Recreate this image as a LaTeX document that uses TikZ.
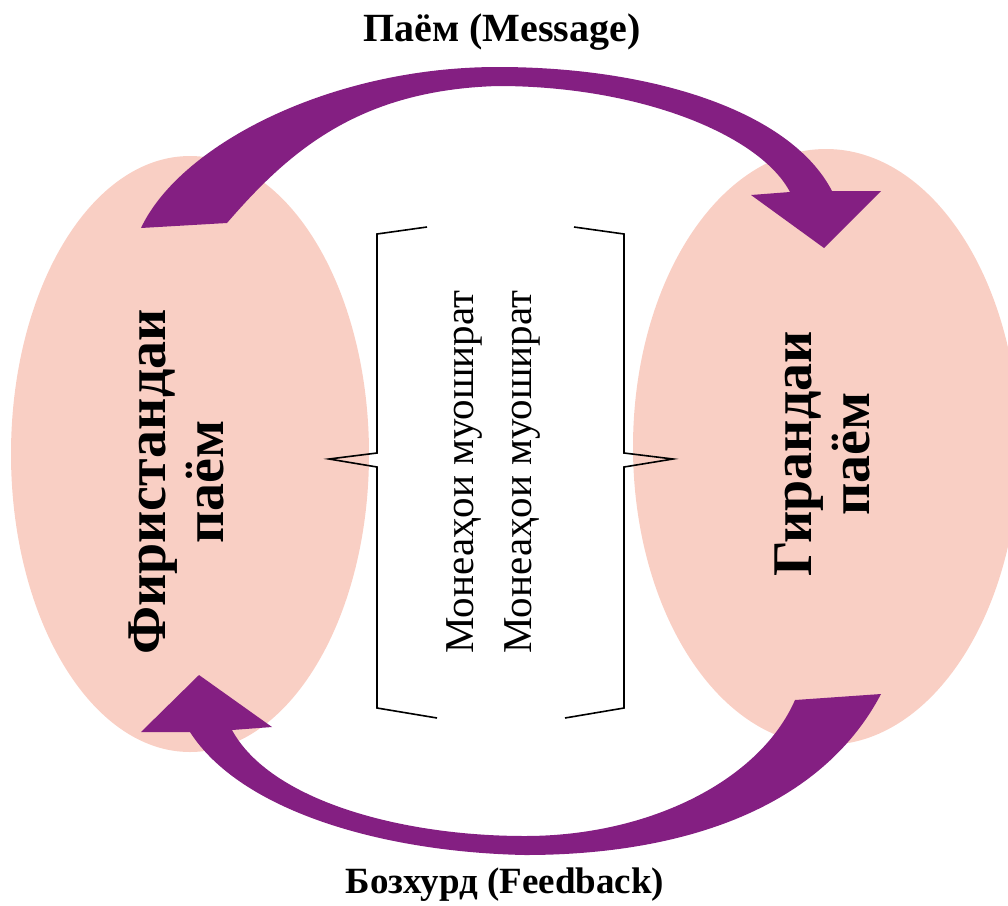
\documentclass[tikz,border=0pt]{standalone}
\usepackage{fontspec}
\setmainfont{Liberation Serif}
\usetikzlibrary{shapes.geometric}
\definecolor{partypink}{RGB}{249,207,196}
\definecolor{loopviolet}{RGB}{132,31,130}
\tikzset{
  party/.style={ellipse,fill=partypink,inner sep=0pt},
  partytext/.style={rotate=90,align=center,inner sep=0pt,font=\bfseries\fontsize{56}{58}\selectfont},
  flowtext/.style={inner sep=0pt,font=\bfseries\fontsize{40}{48}\selectfont},
  bigloop/.style={fill=loopviolet},
  brace/.style={draw,line width=1.6,line join=miter}
}
\begin{document}
\begin{tikzpicture}[x=1pt,y=-1pt]
  \useasboundingbox (0,0) rectangle (1008,905);
  \clip (0,0) rectangle (1008,905);
  \node[party,minimum width=358,minimum height=596] (sender) at (190,454) {};
  \node[party,minimum width=386,minimum height=596] (receiver) at (826,447) {};
  \node[partytext] (sendtxt) at (176,482) {Фиристандаи\\паём};
  \node[partytext] (recvtxt) at (822,454) {Гирандаи\\паём};
  % channel between the two parties
  \draw[brace] (427,227)--(377,234)--(377,453)--(329,459)--(377,467)--(377,708)--(437,718);
  \draw[brace] (574,227)--(624,234)--(624,453)--(673,459)--(624,467)--(624,708)--(565,718);
  \node[rotate=90,align=center,inner sep=0pt,font=\fontsize{41}{58}\selectfont] (channel) at (493,472)
    {Монеаҳои муошират\\Монеаҳои муошират};
  % message, top
  \fill[bigloop] (141,228) .. controls (180,145) and (330,67) .. (498,67)
    .. controls (650,67) and (790,110) .. (832,191) -- (881,191) -- (824,248) -- (751,195) -- (790,192)
    .. controls (760,135) and (640,86) .. (498,86)
    .. controls (360,90) and (290,150) .. (227,223) -- cycle;
  % feedback, bottom
  \fill[bigloop] (881,694) .. controls (820,810) and (680,855) .. (525,855)
    .. controls (380,852) and (240,810) .. (190,732) -- (141,732) -- (199,675) -- (272,727) -- (232,730)
    .. controls (270,800) and (400,836) .. (525,836)
    .. controls (650,836) and (760,780) .. (795,700) -- cycle;
  \node[flowtext] (msg) at (502,32) {Паём (Message)};
  \node[flowtext,font=\bfseries\fontsize{37}{44}\selectfont] (fb) at (505,885) {Бозхурд (Feedback)};
\end{tikzpicture}
\end{document}
